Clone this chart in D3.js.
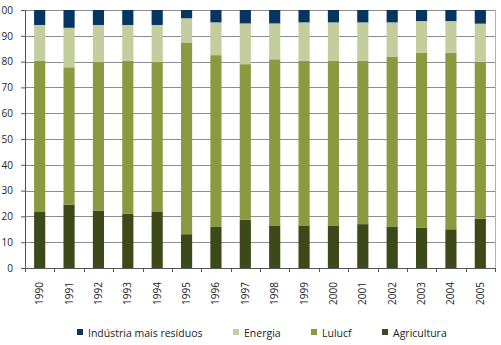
<!DOCTYPE html>
<html>
<head>
<meta charset="utf-8">
<script src="https://cdn.jsdelivr.net/npm/d3@7"></script>
<style>
  body { margin: 0; background: #fff; }
  text { font-family: "Open Sans", sans-serif; fill: #222; }
</style>
</head>
<body>
<svg id="chart" width="501" height="345"></svg>
<script>
const years = ['1990', '1991', '1992', '1993', '1994', '1995', '1996', '1997',
    '1998', '1999', '2000', '2001', '2002', '2003', '2004', '2005'];
const agricultura = [21.7, 24.6, 22.3, 21.1, 21.7, 13.1, 16.1, 18.7, 16.5, 16.5, 16.5, 17.0, 16.1, 15.6, 15.0, 19.1];
const lulucf = [58.6, 53.2, 57.7, 59.2, 58.3, 74.3, 66.4, 60.3, 64.4, 63.8, 63.8, 63.3, 65.7, 67.8, 68.4, 60.9];
const energia = [13.9, 15.3, 14.2, 13.9, 14.2, 9.4, 12.7, 15.8, 13.9, 14.9, 14.9, 14.9, 13.4, 12.3, 12.3, 14.7];
const industria = [5.8, 6.9, 5.8, 5.8, 5.8, 3.2, 4.8, 5.2, 5.2, 4.8, 4.8, 4.8, 4.8, 4.3, 4.3, 5.3];
const yTicks = [0, 10, 20, 30, 40, 50, 60, 70, 80, 90, 100];

const seriesNames = ['Agricultura', 'Lulucf', 'Energia', 'Indústria mais resíduos'];
const colors = {
    'Agricultura': '#3b4a18',
    'Lulucf': '#8b9a40',
    'Energia': '#c4cd9d',
    'Indústria mais resíduos': '#063562'
};

const rows = years.map((y, i) => ({
    year: y,
    'Agricultura': agricultura[i],
    'Lulucf': lulucf[i],
    'Energia': energia[i],
    'Indústria mais resíduos': industria[i]
}));

const svg = d3.select('#chart');
const margin = { left: 25, right: 6, top: 10, bottom: 77 };
const width = 501 - margin.left - margin.right;
const height = 345 - margin.top - margin.bottom;

const g = svg.append('g').attr('transform', `translate(${margin.left},${margin.top})`);

const x = d3.scaleBand().domain(years).range([0, width]).paddingInner(0.62).paddingOuter(0.31);
const xCat = d3.scaleBand().domain(years).range([0, width]);
const y = d3.scaleLinear().domain([0, 100]).range([height, 0]);

// gridlines
g.append('g')
    .selectAll('line')
    .data(yTicks.filter(t => t > 0))
    .enter()
    .append('line')
    .attr('x1', 0)
    .attr('x2', width)
    .attr('y1', d => Math.round(y(d)) + 0.5)
    .attr('y2', d => Math.round(y(d)) + 0.5)
    .attr('stroke', '#8c8c8c')
    .attr('stroke-width', 1);

// right border
g.append('line')
    .attr('x1', width + 0.5).attr('x2', width + 0.5)
    .attr('y1', y(100)).attr('y2', y(0))
    .attr('stroke', '#b0b0b0');

// stacked bars
const stack = d3.stack().keys(seriesNames)(rows);
g.append('g')
    .selectAll('g')
    .data(stack)
    .enter()
    .append('g')
    .attr('fill', d => colors[d.key])
    .selectAll('rect')
    .data(d => d)
    .enter()
    .append('rect')
    .attr('x', d => x(d.data.year))
    .attr('width', x.bandwidth())
    .attr('y', d => y(d[1]))
    .attr('height', d => y(d[0]) - y(d[1]));

// y axis
const yAxis = g.append('g')
    .call(d3.axisLeft(y).tickValues(yTicks).tickSize(4).tickPadding(8).tickFormat(d3.format('d')));
yAxis.select('.domain').attr('stroke', '#555');
yAxis.selectAll('.tick line').attr('stroke', '#555');
yAxis.selectAll('text').attr('font-size', '10px').attr('fill', '#222');

// x axis: ticks at category boundaries
const xAxisG = g.append('g').attr('transform', `translate(0,${height})`);
xAxisG.append('line')
    .attr('x1', 0).attr('x2', width)
    .attr('y1', 0.5).attr('y2', 0.5)
    .attr('stroke', '#555');
xAxisG.selectAll('.bound')
    .data(years.concat(['end']))
    .enter()
    .append('line')
    .attr('x1', (d, i) => Math.round(i * xCat.step()) + 0.5)
    .attr('x2', (d, i) => Math.round(i * xCat.step()) + 0.5)
    .attr('y1', 0)
    .attr('y2', 4)
    .attr('stroke', '#555');
xAxisG.selectAll('.lbl')
    .data(years)
    .enter()
    .append('text')
    .attr('transform', d => `translate(${xCat(d) + xCat.bandwidth() / 2 + 3.5},${14}) rotate(-90)`)
    .attr('text-anchor', 'end')
    .attr('font-size', '10px')
    .text(d => d);

// legend
const legendItems = ['Indústria mais resíduos', 'Energia', 'Lulucf', 'Agricultura'];
const legendX = [77, 233, 311, 382];
const legend = svg.append('g').attr('transform', 'translate(0,333)');
legendItems.forEach((name, i) => {
    legend.append('rect')
        .attr('x', legendX[i])
        .attr('y', -4)
        .attr('width', 6)
        .attr('height', 6)
        .attr('fill', colors[name]);
    legend.append('text')
        .attr('x', legendX[i] + 11)
        .attr('y', 3.5)
        .attr('font-size', '10.5px')
        .text(name);
});
</script>
</body>
</html>
